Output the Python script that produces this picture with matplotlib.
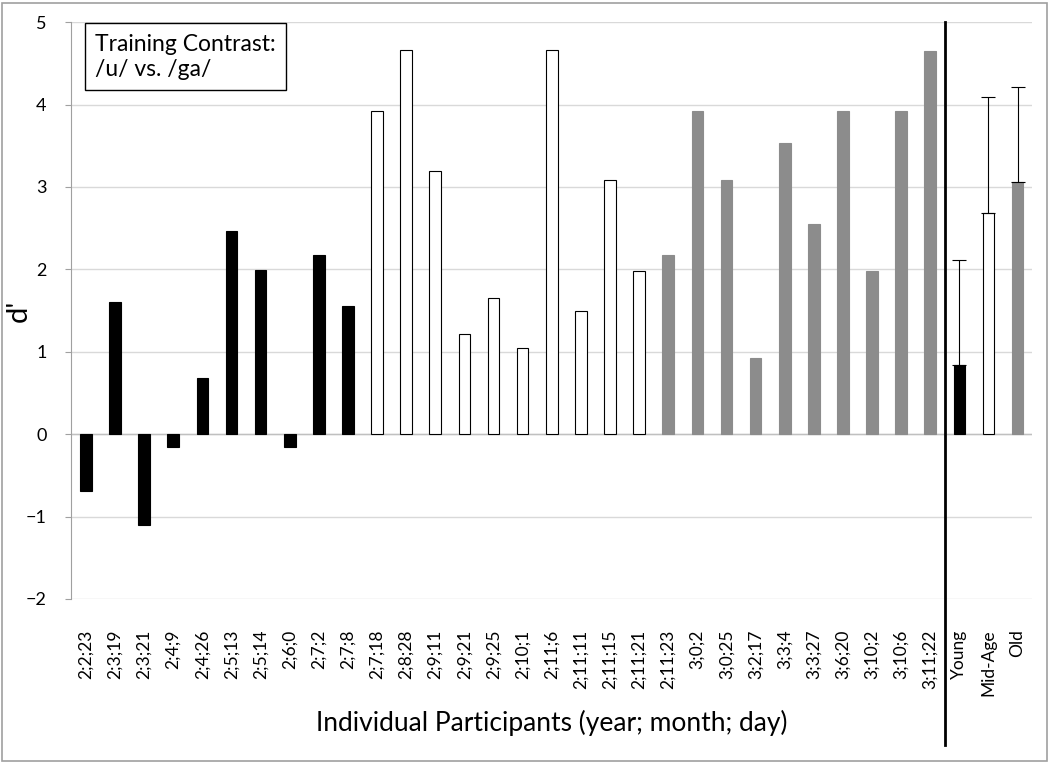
import matplotlib.pyplot as plt
import matplotlib.patches as mpatches

plt.rcParams['font.family'] = ['Lato', 'DejaVu Sans']

# individual participants, age (year;month;day)
young_labels = ["2;2;23", "2;3;19", "2;3;21", "2;4;9", "2;4;26", "2;5;13", "2;5;14", "2;6;0", "2;7;2", "2;7;8"]
young_vals = [-0.69, 1.60, -1.10, -0.15, 0.68, 2.46, 1.99, -0.15, 2.18, 1.56]

mid_labels = ["2;7;18", "2;8;28", "2;9;11", "2;9;21", "2;9;25", "2;10;1", "2;11;6", "2;11;11", "2;11;15", "2;11;21"]
mid_vals = [3.92, 4.66, 3.19, 1.22, 1.65, 1.04, 4.66, 1.50, 3.09, 1.98]

old_labels = ["2;11;23", "3;0;2", "3;0;25", "3;2;17", "3;3;4", "3;3;27", "3;6;20", "3;10;2", "3;10;6", "3;11;22"]
old_vals = [2.17, 3.92, 3.09, 0.93, 3.53, 2.55, 3.92, 1.98, 3.92, 4.65]

group_labels = ["Young", "Mid-Age", "Old"]
group_means = [0.84, 2.69, 3.06]
group_err = [1.27, 1.40, 1.15]

GRAY = "#8c8c8c"
bw = 0.4

fig = plt.figure(figsize=(10.5, 7.64), dpi=100)
ax = fig.add_axes([0.068, 0.216, 0.915, 0.755])

x = 0
for vals, fc, ec in [(young_vals, "black", "black"), (mid_vals, "white", "black"), (old_vals, GRAY, GRAY)]:
	xs = list(range(x, x + len(vals)))
	ax.bar(xs, vals, width=bw, color=fc, edgecolor=ec, linewidth=0.8, zorder=3)
	x += len(vals)

gx = [x, x + 1, x + 2]
gcols = ["black", "white", GRAY]
gedges = ["black", "black", GRAY]
for i in range(3):
	ax.bar(gx[i], group_means[i], width=bw, color=gcols[i], edgecolor=gedges[i], linewidth=0.8, zorder=3)
ax.errorbar(gx, group_means, yerr=[[0, 0, 0], group_err], fmt="none", ecolor="black",
	elinewidth=0.8, capsize=5, capthick=0.8, zorder=4)

labels = young_labels + mid_labels + old_labels + group_labels
ax.set_xticks(range(len(labels)))
ax.set_xticklabels(labels, rotation=90, fontsize=12.5)
ax.tick_params(axis="x", length=0, pad=22)
ax.set_xlim(-0.5, len(labels) - 0.5)

ax.set_ylim(-2, 5)
ax.set_yticks(range(-2, 6))
ax.tick_params(axis="y", labelsize=13, color="#a0a0a0", length=4, pad=14)
ax.yaxis.grid(True, color="#d9d9d9", linewidth=1, zorder=0)
ax.axhline(0, color="#c0c0c0", linewidth=1, zorder=2)

for s in ["top", "right", "bottom"]:
	ax.spines[s].set_visible(False)
ax.spines["left"].set_color("#a0a0a0")

ax.set_ylabel("d'", fontsize=21)
ax.yaxis.set_label_coords(-0.041, 0.5)
ax.set_xlabel("Individual Participants (year; month; day)", fontsize=19, labelpad=10)

# separator between individuals and groups
ax.axvline(29.5, ymin=-0.253, ymax=1.0, color="black", linewidth=2, clip_on=False, zorder=5)

ax.text(0.32, 4.86, "Training Contrast:\n/u/ vs. /ga/", fontsize=16.5, va="top", ha="left",
	linespacing=1.25,
	bbox=dict(boxstyle="square,pad=0.45", facecolor="white", edgecolor="black", linewidth=1), zorder=6)

fig.patches.append(mpatches.Rectangle((0.002, 0.004), 0.995, 0.992, transform=fig.transFigure,
	fill=False, edgecolor="#a0a0a0", linewidth=1.2))

fig.savefig("out.png")
